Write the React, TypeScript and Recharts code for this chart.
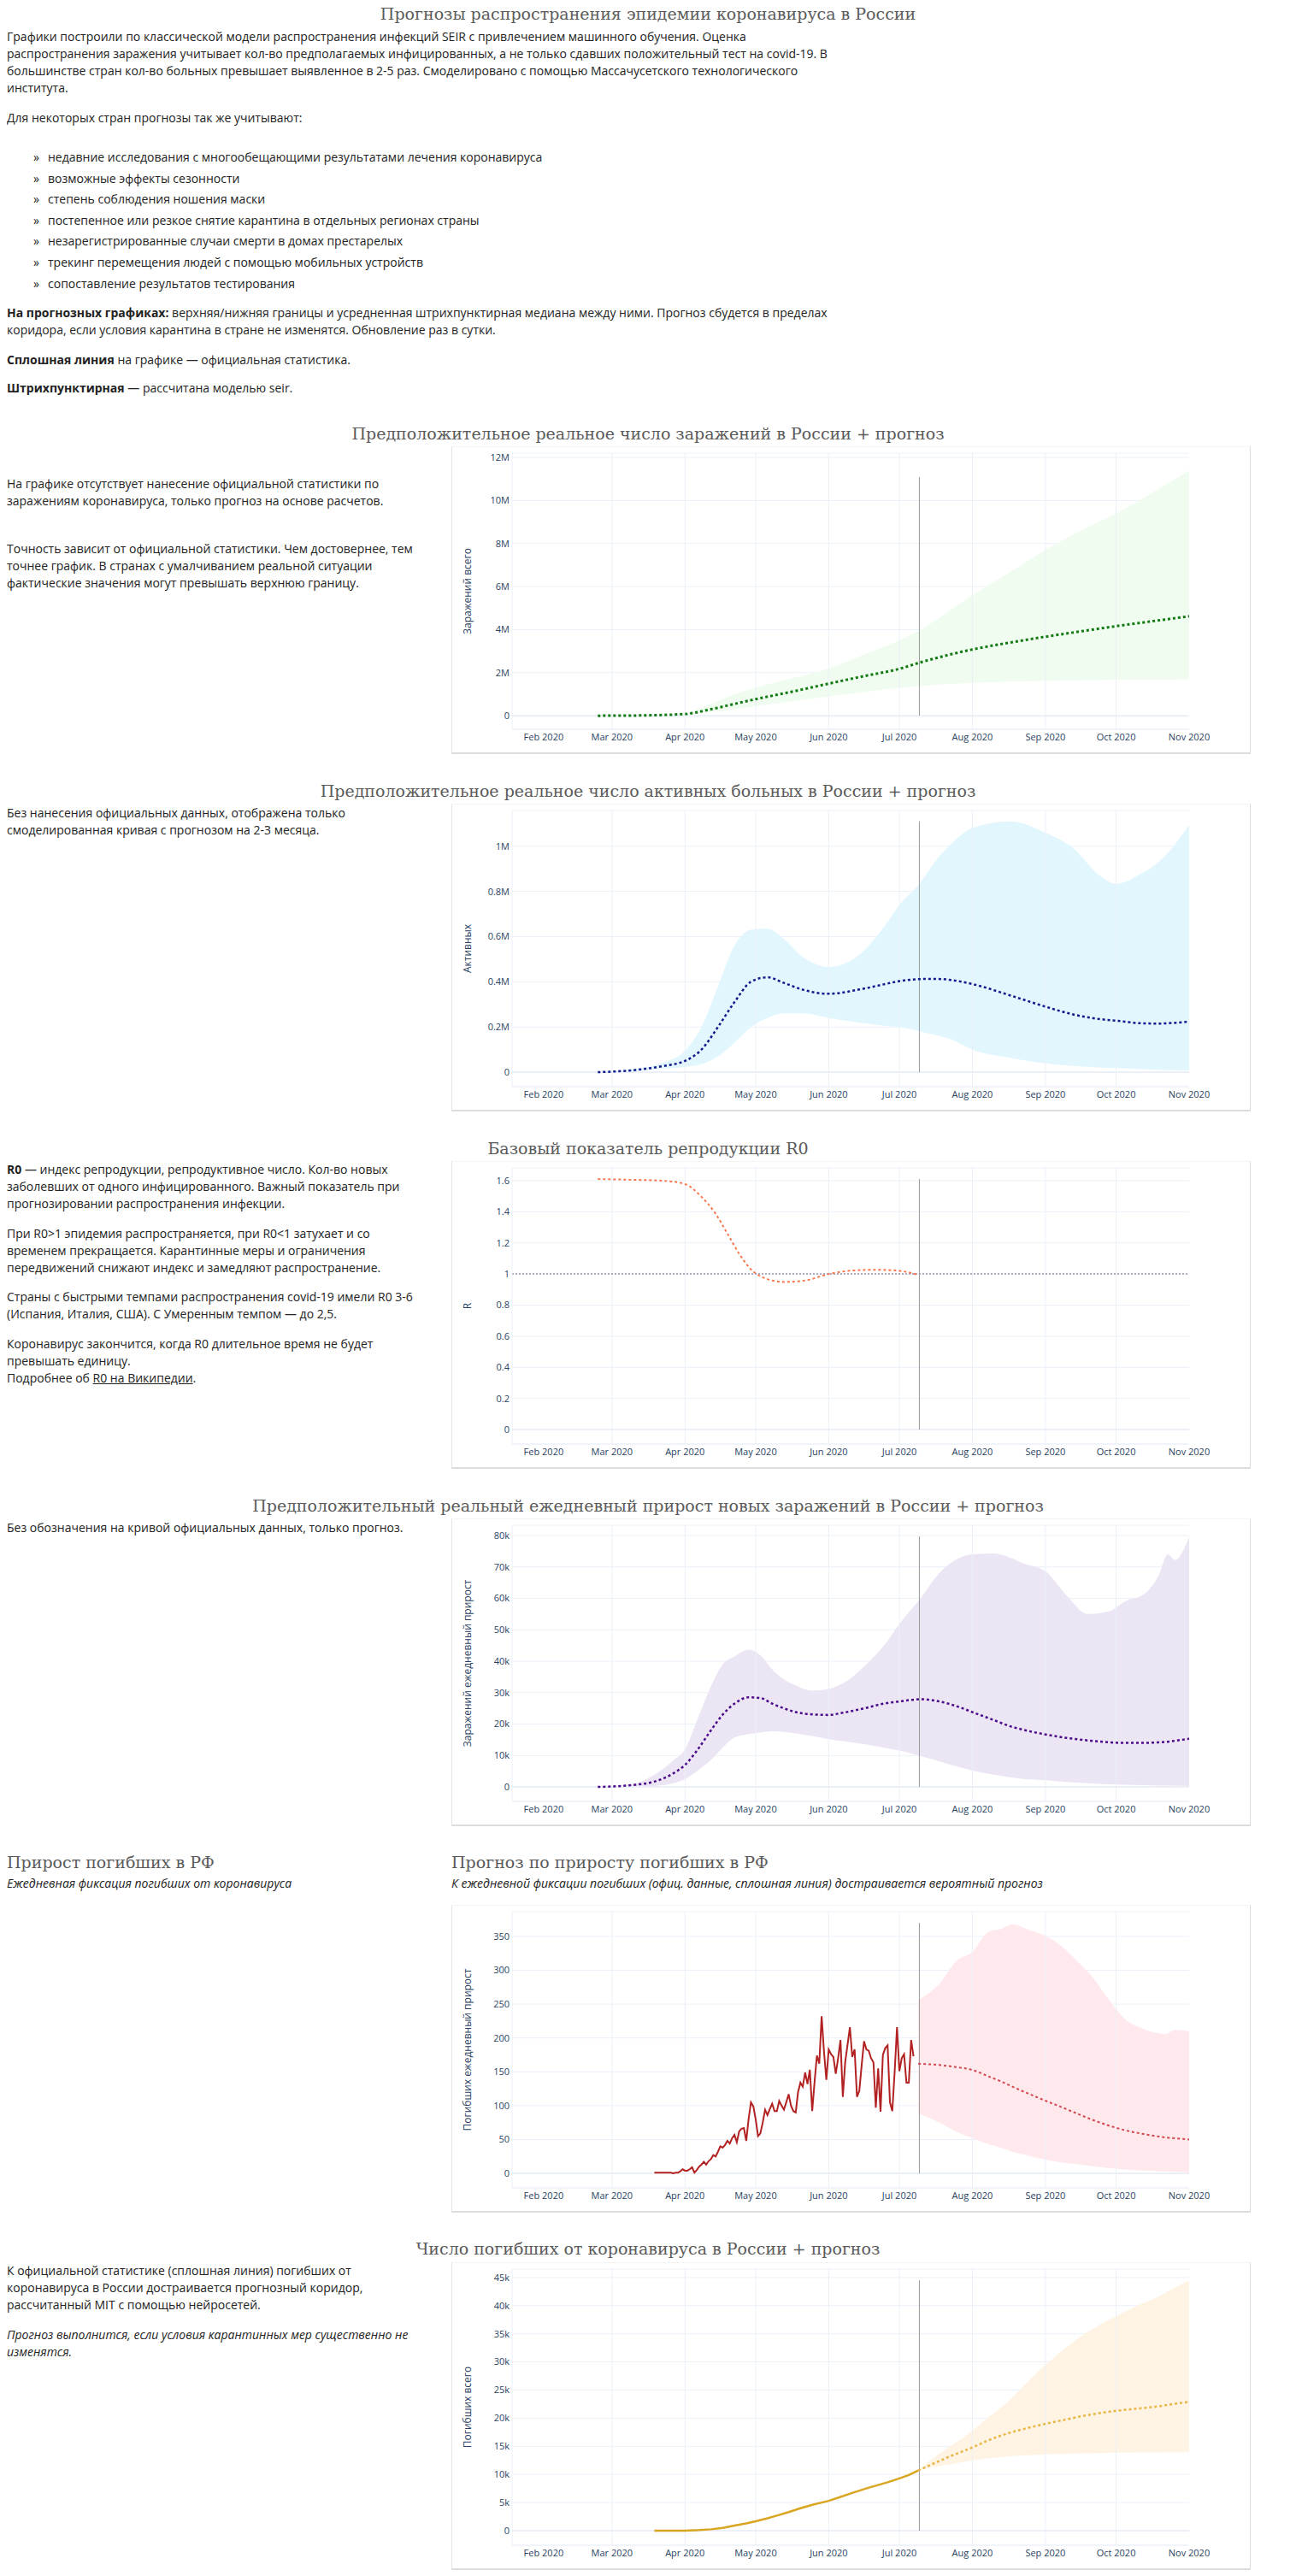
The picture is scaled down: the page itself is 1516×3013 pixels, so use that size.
import React from 'react';
import {
  ComposedChart,
  Line,
  Area,
  XAxis,
  YAxis,
  CartesianGrid,
  ReferenceLine,
  Label
} from 'recharts';

// days counted from 1 Jan 2020 (= 0)
const monthTicks = [31, 60, 91, 121, 152, 182, 213, 244, 274, 305];
const monthLabels = ['Feb 2020', 'Mar 2020', 'Apr 2020', 'May 2020', 'Jun 2020', 'Jul 2020', 'Aug 2020', 'Sep 2020', 'Oct 2020', 'Nov 2020'];
const gridMonths = [60, 91, 121, 152, 182, 213, 244, 274];
const todayDay = 190.5;
const xDomain = [17.6, 305];

// 1. total infections, millions
const infDays = [54, 70, 91, 102, 112, 121, 137, 152, 167, 182, 191, 213, 228, 244, 259, 274, 290, 305];
const infMid = [0, 0.01, 0.08, 0.3, 0.55, 0.77, 1.13, 1.49, 1.84, 2.18, 2.48, 3.08, 3.38, 3.67, 3.92, 4.16, 4.4, 4.62];
const infLow = [0, 0.01, 0.07, 0.17, 0.3, 0.44, 0.68, 0.9, 1.1, 1.3, 1.39, 1.52, 1.58, 1.62, 1.65, 1.67, 1.68, 1.69];
const infHigh = [0, 0.01, 0.1, 0.55, 1.0, 1.3, 1.75, 2.2, 2.85, 3.5, 4.0, 5.6, 6.6, 7.7, 8.6, 9.4, 10.4, 11.4];

// 2. active cases, millions
const actDays = [54, 70, 81, 91, 98, 105, 112, 119, 126, 133, 141, 152, 165, 176, 182, 191, 197, 204, 213, 229, 244, 256, 267, 274, 284, 292, 295, 305];
const actMid = [0, 0.01, 0.026, 0.05, 0.1, 0.2, 0.31, 0.4, 0.42, 0.395, 0.365, 0.347, 0.366, 0.39, 0.403, 0.412, 0.413, 0.408, 0.39, 0.34, 0.29, 0.255, 0.235, 0.228, 0.217, 0.215, 0.216, 0.224];
const actLow = [0, 0.005, 0.015, 0.023, 0.035, 0.07, 0.13, 0.2, 0.24, 0.26, 0.26, 0.24, 0.22, 0.205, 0.2, 0.18, 0.165, 0.145, 0.1, 0.064, 0.039, 0.028, 0.021, 0.018, 0.014, 0.011, 0.01, 0.008];
const actHigh = [0, 0.015, 0.04, 0.095, 0.2, 0.38, 0.56, 0.63, 0.635, 0.59, 0.51, 0.466, 0.52, 0.65, 0.74, 0.84, 0.93, 1.01, 1.08, 1.11, 1.06, 0.99, 0.87, 0.833, 0.875, 0.93, 0.96, 1.095];

// 3. R0
const rDays = [54, 70, 81, 91, 98, 104, 109, 114, 119, 126, 133, 142, 152, 162, 172, 181, 190];
const rVals = [1.61, 1.605, 1.6, 1.578, 1.496, 1.387, 1.26, 1.13, 1.03, 0.967, 0.949, 0.958, 1.0, 1.022, 1.027, 1.022, 0.995];

// 4. daily new infections, thousands
const newDays = [54, 70, 78, 86, 91, 96, 102, 107, 112, 118, 123, 128, 133, 138, 145, 152, 158, 167, 176, 182, 191, 199, 207, 213, 222, 229, 234, 244, 253, 262, 271, 278, 286, 292, 296, 299, 305];
const newMid = [0, 0.7, 1.7, 4.3, 7, 11.5, 18, 23, 26.5, 28.5, 28.3, 26.5, 25, 23.8, 23.1, 22.9, 23.6, 25, 26.6, 27.2, 27.9, 27.2, 25.5, 23.8, 21.3, 19.3, 18.3, 16.7, 15.6, 14.8, 14.2, 14.0, 14.0, 14.2, 14.4, 14.7, 15.3];
const newLow = [0, 0.1, 0.3, 1.2, 2.5, 5, 8.6, 12.5, 15.7, 16.8, 17.3, 17.7, 17.5, 17, 16.2, 15.2, 14.6, 13.6, 12.4, 11.6, 9.8, 8.1, 6.4, 5.2, 3.9, 3.1, 2.6, 2.1, 1.6, 1.2, 0.85, 0.7, 0.55, 0.45, 0.4, 0.35, 0.3];
const newHigh = [0, 1.2, 3.9, 8.4, 12, 21, 32, 39, 41.5, 43.7, 41.9, 37.4, 34.2, 32.3, 30.6, 31.2, 32.9, 38.3, 45.5, 51.9, 60, 68.1, 72.7, 74, 74.3, 73, 71.3, 68.6, 60.9, 55, 55.9, 59.1, 61.4, 67.2, 74, 72.2, 79.5];

// 5. daily deaths: official (one value per day from day 78) + forecast
const deathDailyStart = 78;
const deathDailyFact = [
  1, 1, 1, 1, 1, 1, 1, 1, 0, 1,
  1, 3, 6, 4, 4, 6, 9, 1, 5, 10,
  13, 17, 13, 18, 21, 27, 25, 32, 40, 38,
  42, 48, 44, 52, 57, 46, 62, 66, 67, 48,
  80, 105, 99, 80, 55, 59, 75, 94, 86, 95,
  103, 92, 92, 107, 100, 94, 105, 117, 100, 92,
  90, 120, 134, 128, 149, 132, 153, 92, 135, 174,
  162, 232, 180, 138, 183, 176, 172, 147, 170, 197,
  113, 164, 190, 216, 172, 183, 113, 122, 160, 195,
  183, 181, 170, 164, 97, 155, 91, 175, 185, 189,
  105, 92, 150, 216, 151, 170, 176, 134, 134, 197, 173
];
const ddDays = [190, 199, 206, 213, 220, 225, 230, 236, 243, 250, 257, 264, 271, 278, 285, 292, 295, 299, 305];
const ddMid = [162, 160, 157, 152.7, 143, 136, 128, 119, 108.7, 99, 89, 79, 70.5, 63.5, 58.5, 54.5, 53, 51.8, 50];
const ddLow = [88.5, 75, 62, 52, 43, 38, 32, 26.9, 21, 16.5, 13.5, 10.5, 7.8, 5.8, 4.2, 3.2, 2.8, 2.2, 1.7];
const ddHigh = [256, 280, 313, 327, 357, 361, 368, 361, 352, 338, 315, 290, 256, 227, 214, 207, 206, 212, 210];

// 6. total deaths, thousands
const dtFactDays = [78, 85, 91, 97, 102, 107, 112, 117, 121, 126, 130, 135, 140, 145, 152, 157, 162, 167, 172, 177, 182, 186, 190];
const dtFact = [0, 0.005, 0.02, 0.1, 0.25, 0.5, 0.9, 1.3, 1.67, 2.2, 2.68, 3.3, 4.0, 4.6, 5.3, 6.0, 6.7, 7.4, 8.0, 8.6, 9.3, 9.9, 10.7];
const dtDays = [190, 198, 204, 213, 220, 228, 236, 244, 252, 260, 267, 274, 283, 292, 298, 305];
const dtMid = [10.7, 12.2, 13.3, 14.8, 16.1, 17.3, 18.2, 19.0, 19.7, 20.4, 20.9, 21.3, 21.7, 22.1, 22.5, 22.9];
const dtLow = [10.7, 11.4, 11.8, 12.5, 12.9, 13.2, 13.4, 13.55, 13.65, 13.75, 13.8, 13.85, 13.9, 13.92, 13.94, 13.95];
const dtHigh = [10.7, 13.4, 15.1, 17.8, 20.2, 22.9, 26.3, 29.5, 32.3, 34.8, 36.6, 38.1, 40.0, 41.6, 43.0, 44.5];

const toLine = (days: number[], vals: number[]) => days.map((d, i) => ({ d, v: vals[i] }));
const toBand = (days: number[], lo: number[], hi: number[]) => days.map((d, i) => ({ d, band: [lo[i], hi[i]] }));

const bodyFont = '"Open Sans", sans-serif';
const serifFont = '"DejaVu Serif", serif';
const tickColor = '#2a3f5f';
const gridColor = '#ebf0f8';

const txt: React.CSSProperties = {
  position: 'absolute',
  fontFamily: bodyFont,
  fontSize: 14,
  lineHeight: '20px',
  color: '#222',
  whiteSpace: 'nowrap',
  margin: 0
};
const heading: React.CSSProperties = {
  position: 'absolute',
  fontFamily: serifFont,
  fontSize: 19,
  lineHeight: '26px',
  color: '#5a5a5a',
  whiteSpace: 'nowrap',
  margin: 0,
  fontWeight: 'normal'
};

interface ChartProps {
  top: number;
  yDomain: number[];
  yTicks: number[];
  suffix: string;
  yLabel: string;
  band?: { d: number; band: number[] }[];
  bandFill?: string;
  mid: { d: number; v: number }[];
  midColor: string;
  midWidth?: number;
  fact?: { d: number; v: number }[];
  factColor?: string;
  factWidth?: number;
  vTop: number;
  refOne?: boolean;
}

const ForecastChart: React.FC<ChartProps> = (p) => {
  const todayLine = [
    { d: todayDay, v: 0 },
    { d: todayDay, v: p.vTop }
  ];
  return (
    <div
      style={{
        position: 'absolute',
        left: 520,
        top: p.top,
        width: 935,
        height: 360,
        boxSizing: 'border-box',
        borderLeft: '1px solid #e4e4e4',
        borderRight: '1px solid #dcdcdc',
        borderBottom: '2px solid #dcdcdc',
        borderTop: '1px solid #f4f4f4',
        background: '#fff'
      }}
    >
      <ComposedChart width={933} height={357} margin={{ top: 7, right: 71, left: 0, bottom: 0 }}>
        <CartesianGrid vertical={false} stroke={gridColor} />
        {gridMonths.map((m) => (
          <ReferenceLine key={m} x={m} stroke={gridColor} strokeWidth={1} />
        ))}
        <XAxis
          type="number"
          dataKey="d"
          domain={xDomain}
          allowDataOverflow
          ticks={monthTicks}
          tickFormatter={(d: number) => monthLabels[monthTicks.indexOf(d)]}
          height={27}
          tickLine={false}
          tickSize={0}
          tickMargin={5}
          axisLine={{ stroke: gridColor }}
          tick={{ fill: tickColor, fontSize: 11, fontFamily: bodyFont }}
        />
        <YAxis
          type="number"
          domain={p.yDomain}
          allowDataOverflow
          ticks={p.yTicks}
          tickFormatter={(v: number) => (v === 0 ? '0' : `${v}${p.suffix}`)}
          width={70}
          tickLine={false}
          tickSize={0}
          tickMargin={3}
          axisLine={{ stroke: gridColor }}
          tick={{ fill: tickColor, fontSize: 11, fontFamily: bodyFont }}
        >
          <Label
            content={(lp: any) => {
              const vb = lp.viewBox || { x: 0, y: 0, height: 0 };
              const cx = vb.x + 22;
              const cy = vb.y + vb.height / 2;
              return (
                <text
                  x={cx}
                  y={cy}
                  transform={`rotate(-90 ${cx} ${cy})`}
                  textAnchor="middle"
                  fontSize={12}
                  fontFamily={bodyFont}
                  fill={tickColor}
                >
                  {p.yLabel}
                </text>
              );
            }}
          />
        </YAxis>
        <ReferenceLine y={0} stroke={gridColor} strokeWidth={2} />
        {p.band && (
          <Area
            data={p.band}
            dataKey="band"
            type="monotone"
            stroke="none"
            fill={p.bandFill}
            fillOpacity={1}
            dot={false}
            activeDot={false}
            isAnimationActive={false}
          />
        )}
        {p.refOne && <ReferenceLine y={1} stroke="#9a95b0" strokeDasharray="2 2" strokeWidth={1.5} />}
        <Line
          data={todayLine}
          dataKey="v"
          type="linear"
          stroke="#9a9a9a"
          strokeWidth={1}
          dot={false}
          activeDot={false}
          isAnimationActive={false}
        />
        {p.fact && (
          <Line
            data={p.fact}
            dataKey="v"
            type="linear"
            stroke={p.factColor}
            strokeWidth={p.factWidth || 2}
            dot={false}
            activeDot={false}
            isAnimationActive={false}
          />
        )}
        <Line
          data={p.mid}
          dataKey="v"
          type="monotone"
          stroke={p.midColor}
          strokeWidth={p.midWidth || 2.5}
          strokeDasharray="3 3"
          dot={false}
          activeDot={false}
          isAnimationActive={false}
        />
      </ComposedChart>
    </div>
  );
};

const listItems = [
  'недавние исследования с многообещающими результатами лечения коронавируса',
  'возможные эффекты сезонности',
  'степень соблюдения ношения маски',
  'постепенное или резкое снятие карантина в отдельных регионах страны',
  'незарегистрированные случаи смерти в домах престарелых',
  'трекинг перемещения людей с помощью мобильных устройств',
  'сопоставление результатов тестирования'
];

const center: React.CSSProperties = { left: 0, width: 1500, textAlign: 'center' };

export default function App() {
  return (
    <div style={{ position: 'relative', width: 1500, height: 3000, background: '#fff' }}>
      <h1 style={{ ...heading, ...center, top: -5 }}>Прогнозы распространения эпидемии коронавируса в России</h1>
      <p style={{ ...txt, left: 0, top: 25 }}>
        Графики построили по классической модели распространения инфекций SEIR с привлечением машинного обучения. Оценка
        <br />
        распространения заражения учитывает кол-во предполагаемых инфицированных, а не только сдавших положительный тест на covid-19. В
        <br />
        большинстве стран кол-во больных превышает выявленное в 2-5 раз. Смоделировано с помощью Массачусетского технологического
        <br />
        института.
      </p>
      <p style={{ ...txt, left: 0, top: 120 }}>Для некоторых стран прогнозы так же учитывают:</p>
      {listItems.map((item, i) => (
        <div key={i} style={{ ...txt, left: 0, top: 164 + i * 24.6, lineHeight: '24.6px' }}>
          <span style={{ position: 'absolute', left: 31 }}>»</span>
          <span style={{ position: 'absolute', left: 48 }}>{item}</span>
        </div>
      ))}
      <p style={{ ...txt, left: 0, top: 348 }}>
        <b>На прогнозных графиках:</b> верхняя/нижняя границы и усредненная штрихпунктирная медиана между ними. Прогноз сбудется в пределах
        <br />
        коридора, если условия карантина в стране не изменятся. Обновление раз в сутки.
      </p>
      <p style={{ ...txt, left: 0, top: 403 }}>
        <b>Сплошная линия</b> на графике — официальная статистика.
      </p>
      <p style={{ ...txt, left: 0, top: 436 }}>
        <b>Штрихпунктирная</b> — рассчитана моделью seir.
      </p>

      {/* 1 */}
      <h2 style={{ ...heading, ...center, top: 486 }}>Предположительное реальное число заражений в России + прогноз</h2>
      <p style={{ ...txt, left: 0, top: 548 }}>
        На графике отсутствует нанесение официальной статистики по
        <br />
        заражениям коронавируса, только прогноз на основе расчетов.
      </p>
      <p style={{ ...txt, left: 0, top: 624 }}>
        Точность зависит от официальной статистики. Чем достовернее, тем
        <br />
        точнее график. В странах с умалчиванием реальной ситуации
        <br />
        фактические значения могут превышать верхнюю границу.
      </p>
      <ForecastChart
        top={514}
        yDomain={[-0.63, 12.2]}
        yTicks={[0, 2, 4, 6, 8, 10, 12]}
        suffix="M"
        yLabel="Заражений всего"
        band={toBand(infDays, infLow, infHigh)}
        bandFill="#effcef"
        mid={toLine(infDays, infMid)}
        midColor="#137a13"
        midWidth={3}
        vTop={11.1}
      />

      {/* 2 */}
      <h2 style={{ ...heading, ...center, top: 904 }}>Предположительное реальное число активных больных в России + прогноз</h2>
      <p style={{ ...txt, left: 0, top: 933 }}>
        Без нанесения официальных данных, отображена только
        <br />
        смоделированная кривая с прогнозом на 2-3 месяца.
      </p>
      <ForecastChart
        top={932}
        yDomain={[-0.064, 1.158]}
        yTicks={[0, 0.2, 0.4, 0.6, 0.8, 1]}
        suffix="M"
        yLabel="Активных"
        band={toBand(actDays, actLow, actHigh)}
        bandFill="#e2f6fe"
        mid={toLine(actDays, actMid)}
        midColor="#101a8c"
        vTop={1.11}
      />

      {/* 3 */}
      <h2 style={{ ...heading, ...center, top: 1322 }}>Базовый показатель репродукции R0</h2>
      <p style={{ ...txt, left: 0, top: 1350 }}>
        <b>R0</b> — индекс репродукции, репродуктивное число. Кол-во новых
        <br />
        заболевших от одного инфицированного. Важный показатель при
        <br />
        прогнозировании распространения инфекции.
      </p>
      <p style={{ ...txt, left: 0, top: 1425 }}>
        При R0&gt;1 эпидемия распространяется, при R0&lt;1 затухает и со
        <br />
        временем прекращается. Карантинные меры и ограничения
        <br />
        передвижений снижают индекс и замедляют распространение.
      </p>
      <p style={{ ...txt, left: 0, top: 1499 }}>
        Страны с быстрыми темпами распространения covid-19 имели R0 3-6
        <br />
        (Испания, Италия, США). С Умеренным темпом — до 2,5.
      </p>
      <p style={{ ...txt, left: 0, top: 1554 }}>
        Коронавирус закончится, когда R0 длительное время не будет
        <br />
        превышать единицу.
        <br />
        Подробнее об <span style={{ textDecoration: 'underline' }}>R0 на Википедии</span>.
      </p>
      <ForecastChart
        top={1350}
        yDomain={[-0.093, 1.682]}
        yTicks={[0, 0.2, 0.4, 0.6, 0.8, 1, 1.2, 1.4, 1.6]}
        suffix=""
        yLabel="R"
        mid={toLine(rDays, rVals)}
        midColor="#f7784c"
        midWidth={2}
        vTop={1.61}
        refOne
      />

      {/* 4 */}
      <h2 style={{ ...heading, ...center, top: 1740 }}>Предположительный реальный ежедневный прирост новых заражений в России + прогноз</h2>
      <p style={{ ...txt, left: 0, top: 1769 }}>Без обозначения на кривой официальных данных, только прогноз.</p>
      <ForecastChart
        top={1768}
        yDomain={[-4.6, 83.25]}
        yTicks={[0, 10, 20, 30, 40, 50, 60, 70, 80]}
        suffix="k"
        yLabel="Заражений ежедневный прирост"
        band={toBand(newDays, newLow, newHigh)}
        bandFill="#ece6f4"
        mid={toLine(newDays, newMid)}
        midColor="#4b0a8a"
        vTop={79.7}
      />

      {/* 5 */}
      <h2 style={{ ...heading, left: 0, top: 2157 }}>Прирост погибших в РФ</h2>
      <p style={{ ...txt, left: 0, top: 2185, fontStyle: 'italic' }}>Ежедневная фиксация погибших от коронавируса</p>
      <h2 style={{ ...heading, left: 520, top: 2157 }}>Прогноз по приросту погибших в РФ</h2>
      <p style={{ ...txt, left: 520, top: 2185, fontStyle: 'italic' }}>
        К ежедневной фиксации погибших (офиц. данные, сплошная линия) достраивается вероятный прогноз
      </p>
      <ForecastChart
        top={2220}
        yDomain={[-21.4, 386.5]}
        yTicks={[0, 50, 100, 150, 200, 250, 300, 350]}
        suffix=""
        yLabel="Погибших ежедневный прирост"
        band={toBand(ddDays, ddLow, ddHigh)}
        bandFill="#ffe9ec"
        mid={toLine(ddDays, ddMid)}
        midColor="#d2474f"
        midWidth={2}
        fact={deathDailyFact.map((v, i) => ({ d: deathDailyStart + i, v }))}
        factColor="#b22222"
        factWidth={2}
        vTop={370}
      />

      {/* 6 */}
      <h2 style={{ ...heading, ...center, top: 2609 }}>Число погибших от коронавируса в России + прогноз</h2>
      <p style={{ ...txt, left: 0, top: 2638 }}>
        К официальной статистике (сплошная линия) погибших от
        <br />
        коронавируса в России достраивается прогнозный коридор,
        <br />
        рассчитанный MIT с помощью нейросетей.
      </p>
      <p style={{ ...txt, left: 0, top: 2713, fontStyle: 'italic' }}>
        Прогноз выполнится, если условия карантинных мер существенно не
        <br />
        изменятся.
      </p>
      <ForecastChart
        top={2638}
        yDomain={[-2.58, 46.5]}
        yTicks={[0, 5, 10, 15, 20, 25, 30, 35, 40, 45]}
        suffix="k"
        yLabel="Погибших всего"
        band={toBand(dtDays, dtLow, dtHigh)}
        bandFill="#fff3e3"
        mid={toLine(dtDays, dtMid)}
        midColor="#e7b746"
        midWidth={2.5}
        fact={toLine(dtFactDays, dtFact)}
        factColor="#daa520"
        factWidth={2.5}
        vTop={44.5}
      />
    </div>
  );
}
